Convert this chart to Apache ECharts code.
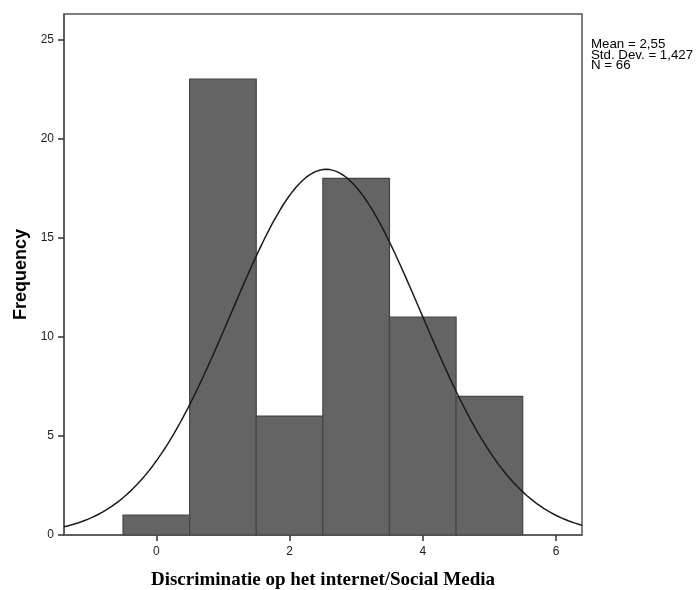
<!DOCTYPE html>
<html><head><meta charset="utf-8">
<script src="https://cdn.jsdelivr.net/npm/echarts@6/dist/echarts.min.js"></script>
<style>html,body{margin:0;padding:0;background:#fff}#c{width:697px;height:590px}</style>
</head><body><div id="c"></div>
<script>
// Data
const binCenters = [0, 1, 2, 3, 4, 5];
const frequencies = [1, 23, 6, 18, 11, 7];
const xTicks = [0, 2, 4, 6];
const yTicks = [0, 5, 10, 15, 20, 25];
const statMean = 2.55;
const statStd = 1.427;
const statN = 66;
const binWidth = 1;

const xMin = -1.386, xMax = 6.39, yMax = 26.29;

const barData = binCenters.map((c, i) => [c, frequencies[i]]);
const curve = [];
for (let k = 0; k <= 300; k++) {
  const x = xMin + (xMax - xMin) * k / 300;
  const z = (x - statMean) / statStd;
  curve.push([x, statN * binWidth * Math.exp(-0.5 * z * z) / (statStd * Math.sqrt(2 * Math.PI))]);
}

const chart = echarts.init(document.getElementById('c'));
chart.setOption({
  animation: false,
  backgroundColor: '#fff',
  title: {
    text: 'Mean = 2,55\nStd. Dev. = 1,427\nN = 66',
    left: 591, top: 39.5, padding: 0,
    textStyle: { fontFamily: 'Liberation Sans, Arial, sans-serif', fontSize: 13.3, fontWeight: 'normal', color: '#000', lineHeight: 10.5 }
  },
  grid: { left: 64, top: 14, width: 518, height: 521, outerBoundsMode: 'none', containLabel: false, show: true, borderColor: '#555', borderWidth: 1.5, backgroundColor: '#fff' },
  xAxis: {
    type: 'value', min: xMin, max: xMax,
    name: 'Discriminatie op het internet/Social Media',
    nameLocation: 'middle', nameGap: 36,
    nameTextStyle: { fontFamily: 'Liberation Serif, Times New Roman, serif', fontWeight: 'bold', fontSize: 19, color: '#000', verticalAlign: 'top' },
    axisLine: { show: true, onZero: false, lineStyle: { color: '#555', width: 1.5 } },
    axisTick: { show: true, inside: false, length: 6, customValues: xTicks, lineStyle: { color: '#333', width: 1.5 } },
    axisLabel: { customValues: xTicks, margin: 11, fontFamily: 'Liberation Sans, Arial, sans-serif', fontSize: 12, color: '#222' },
    splitLine: { show: false }
  },
  yAxis: {
    type: 'value', min: 0, max: yMax,
    name: 'Frequency', nameLocation: 'middle', nameGap: 34, nameRotate: 90,
    nameTextStyle: { fontFamily: 'Liberation Sans, Arial, sans-serif', fontWeight: 'bold', fontSize: 18, color: '#000' },
    axisLine: { show: true, onZero: false, lineStyle: { color: '#555', width: 1.5 } },
    axisTick: { show: true, inside: false, length: 6, customValues: yTicks, lineStyle: { color: '#333', width: 1.5 } },
    axisLabel: { customValues: yTicks, margin: 10, fontFamily: 'Liberation Sans, Arial, sans-serif', fontSize: 12, color: '#222' },
    splitLine: { show: false }
  },
  series: [
    {
      type: 'custom',
      data: barData,
      renderItem: function (params, api) {
        const c = api.value(0), v = api.value(1);
        const p0 = api.coord([c - binWidth / 2, v]);
        const p1 = api.coord([c + binWidth / 2, 0]);
        return {
          type: 'rect',
          shape: { x: p0[0], y: p0[1], width: p1[0] - p0[0], height: p1[1] - p0[1] },
          style: { fill: '#646464', stroke: '#454545', lineWidth: 1.2 }
        };
      },
      z: 2
    },
    {
      type: 'line', data: curve, showSymbol: false, smooth: false, clip: true,
      lineStyle: { color: '#1a1a1a', width: 1.5 }, z: 3
    }
  ]
});
</script></body></html>
